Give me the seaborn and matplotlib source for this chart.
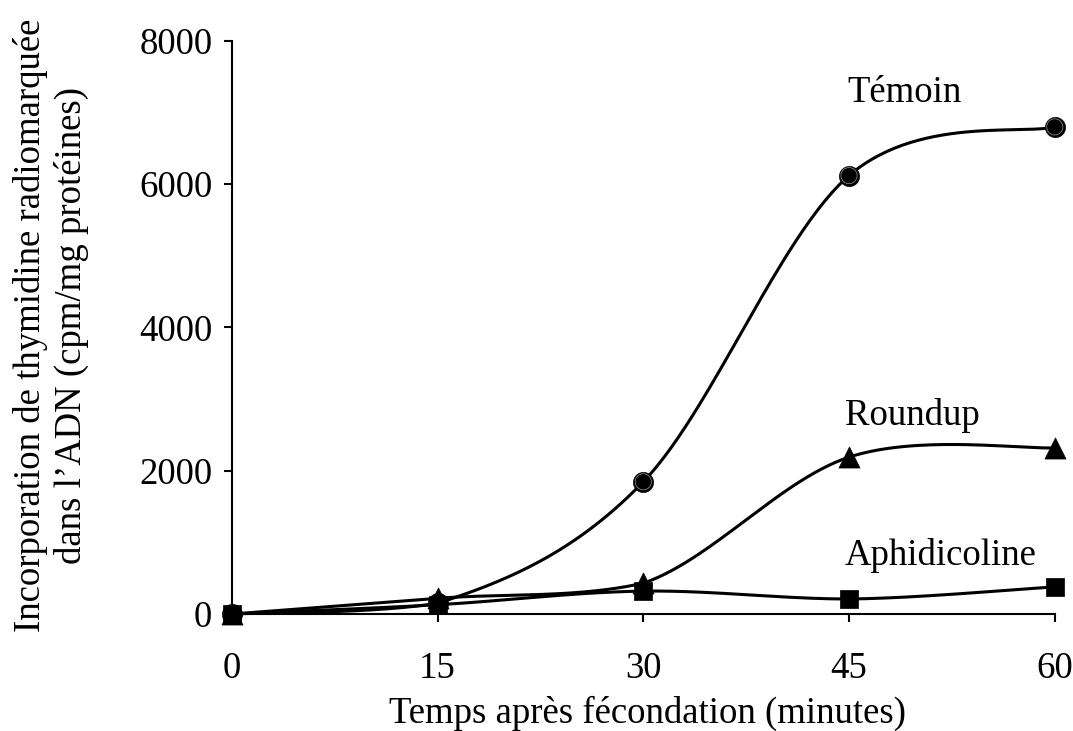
import numpy as np
import pandas as pd
import matplotlib
matplotlib.use("Agg")
import matplotlib.pyplot as plt
import seaborn as sns

# ---- data ----
minutes = [0, 15, 30, 45, 60]
temoin = [0, 150, 1846, 6120, 6800]
roundup = [0, 220, 430, 2190, 2320]
aphidicoline = [0, 130, 320, 210, 380]
series_names = ["Témoin", "Roundup", "Aphidicoline"]
x_ticks = [0, 15, 30, 45, 60]
y_ticks = [0, 2000, 4000, 6000, 8000]

sns.set_style("ticks")
plt.rcParams["font.family"] = ["Liberation Serif", "DejaVu Serif"]
plt.rcParams["text.color"] = "black"
plt.rcParams["axes.labelcolor"] = "black"
plt.rcParams["xtick.color"] = "black"
plt.rcParams["ytick.color"] = "black"

FS = 26.5

fig = plt.figure(figsize=(10.73, 7.31), dpi=100)
ax = fig.add_axes([0.216, 0.160, 0.767, 0.784])


def smooth(xs, ys, n=60):
    """Excel-style smoothed line (Bezier through the points)."""
    P = np.column_stack([xs, ys]).astype(float)
    ext = np.vstack([P[0], P, P[-1]])
    out = []
    t = np.linspace(0, 1, n)[:, None]
    for i in range(len(P) - 1):
        p0, p1, p2, p3 = ext[i], ext[i + 1], ext[i + 2], ext[i + 3]
        c1 = p1 + (p2 - p0) / 6.0
        c2 = p2 - (p3 - p1) / 6.0
        lo = min(p1[1], p2[1])
        c1[1] = max(c1[1], lo)
        c2[1] = max(c2[1], lo)
        seg = ((1 - t) ** 3) * p1 + 3 * ((1 - t) ** 2) * t * c1 + 3 * (1 - t) * t ** 2 * c2 + t ** 3 * p2
        out.append(seg if i == 0 else seg[1:])
    out = np.vstack(out)
    return out[:, 0], out[:, 1]


all_series = [temoin, roundup, aphidicoline]
markers = ["o", "^", "s"]
msizes = [210, 230, 180]

for k, (name, vals, mk, ms) in enumerate(zip(series_names, all_series, markers, msizes)):
    sx, sy = smooth(minutes, vals)
    ax.plot(sx, sy, color="black", lw=2.2, zorder=2, solid_capstyle="round")
    df = pd.DataFrame({"t": minutes, "v": vals})
    sns.scatterplot(data=df, x="t", y="v", marker=mk, s=ms, color="black",
                    edgecolor="black", linewidth=0.5, ax=ax, zorder=3 + k * 0.1, legend=False)
    if mk == "o":
        sns.scatterplot(data=df, x="t", y="v", marker="o", s=135, facecolor="none",
                        edgecolor="#9a9a9a", linewidth=0.5, ax=ax, zorder=3.05, legend=False)

ax.set_xlim(0, 60)
ax.set_ylim(0, 8000)
ax.set_xticks(x_ticks)
ax.set_yticks(y_ticks)
ax.set_xticklabels([str(v) for v in x_ticks], fontsize=FS)
ax.set_yticklabels([str(v) for v in y_ticks], fontsize=FS)
ax.tick_params(axis="x", length=6, width=1.5, pad=21, direction="out", colors="black")
ax.tick_params(axis="y", length=6, width=1.5, pad=8, direction="out", colors="black")

for side in ["top", "right"]:
    ax.spines[side].set_visible(False)
for side in ["left", "bottom"]:
    ax.spines[side].set_linewidth(1.5)
    ax.spines[side].set_color("black")

ax.set_xlabel("Temps après fécondation (minutes)", fontsize=FS, va="center", color="black")
ax.xaxis.set_label_coords(0.505, -0.173)
ax.set_ylabel("Incorporation de thymidine radiomarquée\ndans l\u2019ADN (cpm/mg protéines)",
              fontsize=FS, linespacing=1.22, va="center", color="black")
ax.yaxis.set_label_coords(-0.2193, 0.504)

ax.text(44.9, 7150, "Témoin", fontsize=FS, va="baseline", ha="left", color="black")
ax.text(44.7, 2640, "Roundup", fontsize=FS, va="baseline", ha="left", color="black")
ax.text(44.7, 684, "Aphidicoline", fontsize=FS, va="baseline", ha="left", color="black")

for art in ax.collections:
    art.set_clip_on(False)
for ln in ax.lines:
    ln.set_clip_on(False)

fig.savefig("out.png", dpi=100, facecolor="white")
